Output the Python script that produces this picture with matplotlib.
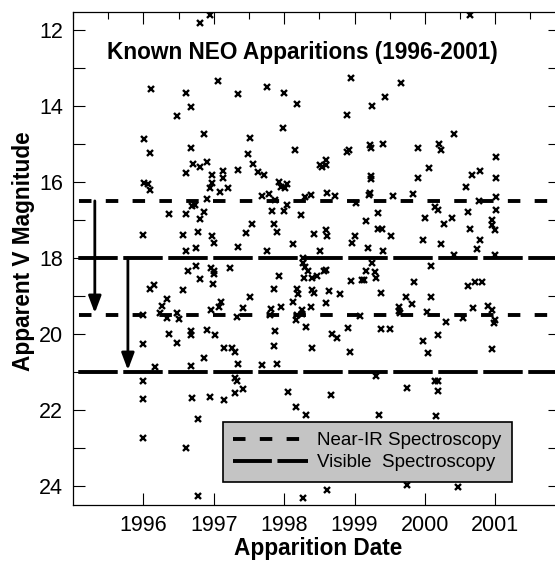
import matplotlib
matplotlib.use('Agg')
import matplotlib.pyplot as plt
from matplotlib.ticker import FixedLocator, MultipleLocator
from matplotlib.lines import Line2D

plt.rcParams['font.family'] = ['Liberation Sans', 'DejaVu Sans']
plt.rcParams['lines.scale_dashes'] = False

# ---------------- data ----------------
date = [
    # 1996-1997.6, bright part
    1996.95, 1996.81, 1997.06, 1996.11, 1996.60, 1997.34, 1996.67, 1996.48, 1996.86, 1996.01,
    1997.52, 1996.67, 1996.09, 1997.49, 1996.71, 1996.81, 1996.91, 1996.61, 1997.56, 1997.63,
    1997.35, 1996.97, 1997.13, 1997.13, 1996.01, 1996.07, 1996.10, 1996.97, 1996.95, 1997.09,
    1997.20, 1996.91, 1996.74, 1996.69, 1996.86, 1996.80, 1996.37, 1996.60, 1997.54, 1997.46,
    1996.00, 1996.56, 1996.78, 1996.97, 1997.00, 1996.75, 1996.61, 1997.34,
    # 1997.7-1999.3, bright part
    1998.95, 1997.75, 1998.00, 1998.18, 1999.25, 1998.90, 1997.99, 1998.16, 1998.90, 1998.92,
    1999.22, 1999.24, 1997.72, 1998.51, 1998.60, 1998.59, 1998.54, 1999.24, 1999.24, 1997.93,
    1998.04, 1997.95, 1998.01, 1997.68, 1997.79, 1997.87, 1998.29, 1998.38, 1998.61, 1998.72,
    1999.02, 1999.20, 1999.22, 1998.04, 1998.00, 1997.83, 1998.24, 1999.34, 1999.16, 1997.85,
    1997.90, 1998.43, 1998.60, 1998.61, 1999.00, 1999.33, 1998.12, 1998.97, 1997.75, 1998.51,
    1999.19,
    # 1999.4-2001, bright part
    2000.64, 1999.66, 1999.44, 2000.42, 1999.41, 1999.90, 2000.20, 2000.23, 2001.01, 2000.06,
    1999.90, 2000.67, 2000.79, 2001.01, 2000.59, 1999.54, 1999.83, 2001.01, 2000.77, 2000.14,
    2000.19, 2000.61, 2001.01, 2000.00, 2000.39, 2000.27, 1999.39, 2000.96, 2000.96, 2001.00,
    2000.64, 1999.52, 1999.98, 2000.23, 2000.79, 2000.74, 1999.41, 2000.42, 2000.99,
    # 1996-1997.6, faint part
    1996.75, 1996.64, 1996.96, 1997.00, 1997.01, 1997.23, 1996.80, 1996.99, 1996.15, 1996.09,
    1996.56, 1997.52, 1996.34, 1996.26, 1997.11, 1997.08, 1997.41, 1996.96, 1996.00, 1996.23,
    1996.34, 1996.48, 1996.50, 1997.33, 1996.36, 1996.67, 1996.67, 1996.91, 1997.02, 1996.00,
    1996.48, 1997.15, 1997.26, 1997.30, 1996.86, 1996.17, 1996.67, 1997.35, 1997.30, 1997.33,
    1996.00, 1997.42, 1997.30, 1996.00, 1996.69, 1996.94, 1997.15, 1996.78, 1996.00, 1996.61,
    1996.78,
    # 1997.7-1999.3, faint part
    1998.27, 1998.27, 1998.29, 1999.25, 1997.93, 1998.34, 1998.28, 1998.40, 1998.46, 1998.57,
    1998.60, 1999.16, 1999.29, 1999.30, 1998.95, 1999.10, 1999.14, 1997.85, 1998.19, 1998.20,
    1998.40, 1998.42, 1998.64, 1998.80, 1998.12, 1998.59, 1997.82, 1997.96, 1997.80, 1998.38,
    1998.26, 1998.18, 1998.25, 1998.17, 1999.08, 1997.87, 1998.31, 1998.68, 1998.75, 1998.91,
    1997.85, 1998.39, 1998.94, 1997.68, 1997.90, 1999.31, 1998.06, 1998.67, 1998.17, 1998.31,
    1999.35, 1998.61, 1998.27,
    # 1999.4-2001, faint part
    2000.09, 1999.84, 2000.61, 2000.71, 2000.81, 1999.38, 1999.73, 2000.09, 1999.82, 1999.63,
    1999.63, 1999.65, 2000.03, 2000.68, 2000.90, 2000.96, 2000.99, 2000.98, 2000.30, 2000.54,
    1999.38, 1999.51, 2000.19, 1999.98, 2000.05, 2000.95, 2000.14, 2000.19, 1999.75, 2000.19,
    2000.16, 1999.75, 2000.47,
]
v_mag = [
    11.61, 11.83, 13.35, 13.56, 13.65, 13.68, 14.03, 14.27, 14.74, 14.88,
    14.84, 15.12, 15.24, 15.26, 15.52, 15.62, 15.47, 15.76, 15.53, 15.74,
    15.69, 15.81, 15.72, 15.89, 16.04, 16.06, 16.20, 16.03, 16.15, 16.26,
    16.15, 16.45, 16.60, 16.64, 16.79, 16.97, 16.85, 16.85, 17.12, 17.35,
    17.40, 17.40, 17.32, 17.42, 17.61, 17.73, 17.82, 17.72,

    13.26, 13.51, 13.65, 13.95, 14.00, 14.23, 14.58, 15.15, 15.21, 15.17,
    15.02, 15.12, 15.82, 15.56, 15.43, 15.56, 15.62, 15.85, 15.92, 16.00,
    16.05, 16.13, 16.15, 16.37, 16.33, 16.48, 16.41, 16.35, 16.28, 16.37,
    16.56, 16.35, 16.29, 16.61, 16.77, 16.76, 16.88, 16.83, 17.03, 17.11,
    17.32, 17.36, 17.27, 17.43, 17.42, 17.23, 17.64, 17.61, 17.82, 17.81,
    17.74,

    11.61, 13.41, 13.76, 14.74, 14.99, 15.10, 15.00, 15.16, 15.34, 15.63,
    15.89, 15.82, 15.72, 15.91, 16.13, 16.38, 16.32, 16.41, 16.51, 16.66,
    16.74, 16.79, 16.74, 16.95, 16.95, 17.10, 17.23, 17.01, 17.14, 17.27,
    17.24, 17.42, 17.52, 17.64, 17.54, 17.76, 17.82, 17.91, 17.91,

    18.20, 18.34, 18.26, 18.34, 18.43, 18.26, 18.55, 18.68, 18.71, 18.82,
    18.85, 19.02, 19.09, 19.26, 19.15, 19.28, 19.32, 19.37, 19.50, 19.46,
    19.59, 19.46, 19.61, 19.56, 20.00, 19.92, 20.04, 19.89, 20.03, 20.26,
    20.23, 20.38, 20.38, 20.47, 20.64, 20.86, 20.84, 20.80, 21.15, 21.24,
    21.23, 21.45, 21.56, 21.71, 21.69, 21.67, 21.74, 22.23, 22.74, 23.01,
    24.27,

    18.01, 18.14, 18.23, 18.14, 18.47, 18.34, 18.53, 18.53, 18.47, 18.34,
    18.32, 18.34, 18.38, 18.52, 18.60, 18.58, 18.58, 18.82, 18.82, 18.96,
    18.84, 18.93, 18.86, 18.95, 19.15, 19.19, 19.34, 19.30, 19.50, 19.30,
    19.37, 19.50, 19.48, 19.63, 19.52, 19.91, 19.82, 20.00, 20.11, 19.85,
    20.31, 20.36, 20.48, 20.82, 20.79, 21.10, 21.52, 21.61, 21.93, 22.13,
    22.13, 24.11, 24.32,

    18.21, 18.64, 18.73, 18.64, 18.64, 18.93, 19.03, 19.02, 19.21, 19.30,
    19.39, 19.46, 19.41, 19.32, 19.26, 19.37, 19.63, 19.72, 19.68, 19.59,
    19.87, 19.87, 20.03, 20.18, 20.51, 20.40, 21.23, 21.23, 21.43, 21.50,
    22.15, 23.97, 24.03,
]
assert len(date) == len(v_mag), (len(date), len(v_mag))

near_ir_limits = [16.5, 19.5]
visible_limits = [18.0, 21.0]
arrow_dates = [1995.31, 1995.78]
year_ticks = [1996, 1997, 1998, 1999, 2000, 2001]
mag_ticks = [12, 14, 16, 18, 20, 22, 24]
legend_labels = ['Near-IR Spectroscopy', 'Visible  Spectroscopy']
title = 'Known NEO Apparitions (1996-2001)'

# ---------------- figure ----------------
fig = plt.figure(figsize=(5.55, 5.69), dpi=100)
ax = fig.add_axes([73 / 555, 1 - 505 / 569, (560 - 73) / 555, (505 - 12) / 569])
ax.set_xlim(1995.0, 2001.92)
ax.set_ylim(24.5, 11.53)

near_style = (15.0, (9.0, 10.3))
vis_style = (28.6, (28.4, 4.0))
for y in near_ir_limits:
    ax.axhline(y, color='k', lw=2.8, ls=near_style, zorder=2)
for y in visible_limits:
    ax.axhline(y, color='k', lw=2.8, ls=vis_style, zorder=2)

ax.plot(date, v_mag, 'x', color='k', ms=4.6, mew=1.7, zorder=3)

for xa, (y0, y1) in zip(arrow_dates, [(near_ir_limits[0], near_ir_limits[1]),
                                      (visible_limits[0], visible_limits[1])]):
    ax.annotate('', xy=(xa, y1 - 0.05), xytext=(xa, y0),
                arrowprops=dict(arrowstyle='-|>,head_length=0.85,head_width=0.32',
                                lw=2.0, color='k', shrinkA=0, shrinkB=0,
                                mutation_scale=12),
                zorder=4)

ax.text(0.472, 0.917, title, transform=ax.transAxes, ha='center', va='center',
        fontsize=16.3, fontweight='bold', zorder=5)

# ticks
ax.xaxis.set_major_locator(FixedLocator(year_ticks))
ax.xaxis.set_minor_locator(MultipleLocator(0.5))
ax.yaxis.set_major_locator(FixedLocator(mag_ticks))
ax.yaxis.set_minor_locator(MultipleLocator(1))
ax.tick_params(axis='x', which='major', direction='in', length=8.6, width=0.8,
               top=True, bottom=True, labelsize=15.5, pad=7)
ax.tick_params(axis='x', which='minor', direction='in', length=5, width=0.8,
               top=True, bottom=False)
ax.tick_params(axis='y', which='both', direction='in', length=8.6, width=0.8,
               left=True, right=True, labelsize=15.5, pad=7)
for s in ax.spines.values():
    s.set_linewidth(0.9)

# legend
h1 = Line2D([], [], color='k', lw=2.8, ls=(0, (9.0, 10.3)))
h2 = Line2D([], [], color='k', lw=2.8, ls=(0, (28.0, 4.0)))
leg = ax.legend([h1, h2], legend_labels, loc='lower left',
                bbox_to_anchor=(0.3074, 0.0473), borderaxespad=0, fancybox=False,
                framealpha=1, facecolor='#c4c4c4', edgecolor='k', fontsize=13.5,
                handlelength=4.0, handletextpad=0.5, labelspacing=0.26,
                borderpad=0.55)
leg.get_frame().set_linewidth(1.2)
leg.set_zorder(6)

fig.text(318 / 555, 1 - 548 / 569, 'Apparition Date', ha='center', va='center',
         fontsize=16.3, fontweight='bold')
fig.text(24 / 555, 1 - 251 / 569, 'Apparent V Magnitude', ha='center', va='center',
         rotation=90, fontsize=16.3, fontweight='bold')

fig.savefig('out.png', dpi=100)
